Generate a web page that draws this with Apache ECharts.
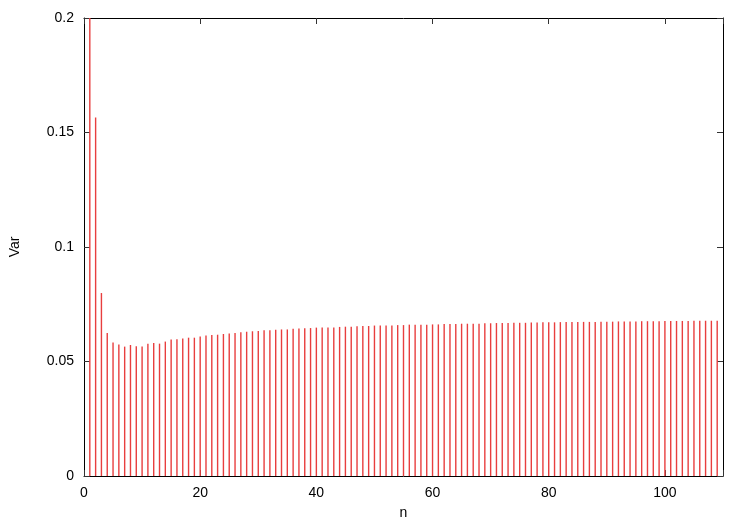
<!DOCTYPE html>
<html>
<head>
<meta charset="utf-8">
<script src="https://cdn.jsdelivr.net/npm/echarts@6/dist/echarts.min.js"></script>
<style>
  html, body { margin: 0; padding: 0; background: #fff; }
  #chart { width: 750px; height: 525px; }
</style>
</head>
<body>
<div id="chart"></div>
<script>
// n = 1 .. 109
const nValues = Array.from({ length: 109 }, (_, i) => i + 1)
// variance per n (the first one runs past the top)
const varValues = [
  0.25, 0.1565, 0.0799, 0.0625, 0.0583, 0.0574, 0.0565, 0.0572, 0.0567, 0.0565,
  0.0578, 0.0581, 0.0578, 0.0587, 0.0596, 0.0597, 0.0600, 0.0604, 0.0604, 0.0609,
  0.0613, 0.0616, 0.0617, 0.0620, 0.0622, 0.0625, 0.0628, 0.0630, 0.0632, 0.0633,
  0.0636, 0.0636, 0.0639, 0.0640, 0.0640, 0.0643, 0.0644, 0.0645, 0.0646, 0.0648,
  0.0648, 0.0648, 0.0649, 0.0651, 0.0652, 0.0652, 0.0654, 0.0655, 0.0655, 0.0657,
  0.0657, 0.0657, 0.0657, 0.0659, 0.0659, 0.0661, 0.0661, 0.0661, 0.0661, 0.0662,
  0.0662, 0.0664, 0.0664, 0.0664, 0.0665, 0.0665, 0.0665, 0.0665, 0.0667, 0.0667,
  0.0668, 0.0668, 0.0668, 0.0669, 0.0669, 0.0669, 0.0670, 0.0670, 0.0671, 0.0671,
  0.0671, 0.0672, 0.0672, 0.0672, 0.0673, 0.0673, 0.0673, 0.0673, 0.0674, 0.0674,
  0.0674, 0.0675, 0.0675, 0.0675, 0.0675, 0.0676, 0.0676, 0.0676, 0.0676, 0.0677,
  0.0677, 0.0677, 0.0677, 0.0677, 0.0678, 0.0678, 0.0678, 0.0678, 0.0678
]
const xTicks = [0, 20, 40, 60, 80, 100]
const yTicks = [0, 0.05, 0.1, 0.15, 0.2]

const font = '"Liberation Sans", Arial, sans-serif'
const lineStyle = { color: '#000', width: 1 }
const tickStyle = { color: '#333', width: 1 }

// shared pieces for the four frame axes
function xAxisOf(pos, withLabels) {
  return {
    type: 'value',
    position: pos,
    min: xTicks[0],
    max: 110,
    interval: xTicks[1] - xTicks[0],
    axisLine: { show: true, onZero: false, lineStyle },
    axisTick: { inside: true, length: 6, lineStyle: tickStyle },
    axisLabel: withLabels
      ? {
          margin: 10,
          fontFamily: font,
          fontSize: 14,
          color: '#000',
          formatter: v => (xTicks.includes(v) ? String(v) : '')
        }
      : { show: false },
    splitLine: { show: false }
  }
}
function yAxisOf(pos, withLabels) {
  return {
    type: 'value',
    position: pos,
    min: yTicks[0],
    max: yTicks[yTicks.length - 1],
    interval: yTicks[1] - yTicks[0],
    axisLine: { show: true, onZero: false, lineStyle },
    axisTick: { inside: true, length: 6, lineStyle: tickStyle },
    axisLabel: withLabels
      ? { margin: 10, fontFamily: font, fontSize: 14, color: '#000' }
      : { show: false },
    splitLine: { show: false }
  }
}

const myChart = echarts.init(document.getElementById('chart'))
const bottomX = xAxisOf('bottom', true)
bottomX.name = 'n'
bottomX.nameLocation = 'middle'
bottomX.nameGap = 30
bottomX.nameTextStyle = { fontFamily: font, fontSize: 14, color: '#000' }
const leftY = yAxisOf('left', true)
leftY.name = 'Var'
leftY.nameLocation = 'middle'
leftY.nameRotate = 90
leftY.nameGap = 62
leftY.nameTextStyle = { fontFamily: font, fontSize: 14, color: '#000' }

const option = {
  animation: false,
  grid: { left: 81, top: 18, width: 642, height: 460, containLabel: false },
  xAxis: [bottomX, xAxisOf('top', false)],
  yAxis: [leftY, yAxisOf('right', false)],
  series: [
    {
      type: 'bar',
      xAxisIndex: 0,
      yAxisIndex: 0,
      barWidth: 1.4,
      clip: true,
      itemStyle: { color: 'rgb(232,62,62)' },
      data: nValues.map((n, i) => [n, varValues[i]])
    }
  ]
}
myChart.setOption(option)
</script>
</body>
</html>
